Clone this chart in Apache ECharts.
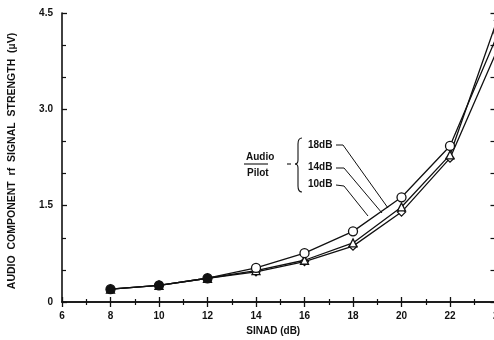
<!DOCTYPE html>
<html>
<head>
<meta charset="utf-8">
<script src="https://cdn.jsdelivr.net/npm/echarts@6/dist/echarts.min.js"></script>
<style>
  html, body { margin: 0; padding: 0; background: #fff; }
  #chart { width: 494px; height: 340px; }
</style>
</head>
<body>
<div id="chart"></div>
<script>
// SINAD (dB)
var sinad = [8, 10, 12, 14, 16, 18, 20, 22, 24];
// audio/pilot ratio curves, µV
var audio18 = [0.2, 0.26, 0.37, 0.53, 0.76, 1.1, 1.63, 2.43, 4.2];
var audio14 = [0.2, 0.26, 0.37, 0.49, 0.65, 0.92, 1.48, 2.29, 4.45];
var audio10 = [0.2, 0.26, 0.37, 0.47, 0.63, 0.87, 1.4, 2.24, 3.97];
var yTicks = [0, 1.5, 3.0, 4.5];

var font = "Liberation Sans, Arial, sans-serif";

// first three points overlap on the original and print as solid dots
function pairs(ys) {
  return sinad.map(function (x, i) {
    var item = { value: [x, ys[i]] };
    if (x <= 12) item.itemStyle = { color: "#111" };
    return item;
  });
}

function makeSeries(name, ys, symbol, size) {
  return {
    name: name,
    type: "line",
    data: pairs(ys),
    symbol: symbol,
    symbolSize: size,
    showAllSymbol: true,
    lineStyle: { color: "#111", width: 1.3 },
    itemStyle: { color: "#fff", borderColor: "#111", borderWidth: 1.3 },
    emphasis: { disabled: true },
    z: 3,
  };
}

function label(txt, x, y) {
  return {
    type: "text",
    x: x,
    y: y,
    style: { text: txt, font: "bold 10px " + font, fill: "#111", verticalAlign: "middle" },
  };
}

function seg(x1, y1, x2, y2) {
  return { type: "line", shape: { x1: x1, y1: y1, x2: x2, y2: y2 }, style: { stroke: "#111", lineWidth: 1.1 } };
}

function curve(x1, y1, cx, cy, x2, y2) {
  return {
    type: "bezierCurve",
    shape: { x1: x1, y1: y1, cpx1: cx, cpy1: cy, x2: x2, y2: y2 },
    style: { stroke: "#111", lineWidth: 1.1, fill: null },
  };
}

function leader(pts) {
  return { type: "polyline", shape: { points: pts }, style: { stroke: "#111", lineWidth: 1, fill: null } };
}

var axisLine = { show: true, lineStyle: { color: "#111", width: 1.6 } };

var myChart = echarts.init(document.getElementById("chart"));
myChart.setOption({
  animation: false,
  backgroundColor: "#fff",
  grid: { left: 62, top: 13, width: 436.5, height: 289, outerBoundsMode: "none", containLabel: false },
  xAxis: [
    {
      type: "value",
      min: 6,
      max: 24,
      interval: 2,
      axisLine: axisLine,
      axisTick: { inside: true, length: 5, lineStyle: { color: "#111", width: 1.3 } },
      minorTick: { show: true, splitNumber: 2, length: 3, lineStyle: { color: "#111", width: 1.2 } },
      splitLine: { show: false },
      axisLabel: { color: "#111", fontFamily: font, fontWeight: "bold", fontSize: 10, margin: 9 },
      name: "SINAD (dB)",
      nameLocation: "middle",
      nameGap: 21,
      nameTextStyle: { color: "#111", fontFamily: font, fontWeight: "bold", fontSize: 10, padding: [0, 14, 0, 0] },
    },
    {
      type: "value",
      position: "top",
      min: 6,
      max: 24,
      interval: 2,
      axisLine: axisLine,
      axisTick: { inside: true, length: 5, lineStyle: { color: "#111", width: 1.3 } },
      minorTick: { show: true, splitNumber: 2, length: 3, lineStyle: { color: "#111", width: 1.2 } },
      splitLine: { show: false },
      axisLabel: { show: false },
    },
  ],
  yAxis: [
    {
      type: "value",
      min: 0,
      max: 4.5,
      interval: 1.5,
      axisLine: axisLine,
      axisTick: { inside: true, length: 5, lineStyle: { color: "#111", width: 1.3 } },
      minorTick: { show: true, splitNumber: 3, length: 4, lineStyle: { color: "#111", width: 1.2 } },
      splitLine: { show: false },
      axisLabel: {
        color: "#111",
        fontFamily: font,
        fontWeight: "bold",
        fontSize: 10,
        margin: 9,
        formatter: function (v) {
          var t = yTicks.filter(function (k) { return Math.abs(k - v) < 1e-6; })[0];
          return t === 0 ? "0" : t.toFixed(1);
        },
      },
      name: "AUDIO  COMPONENT  rf  SIGNAL  STRENGTH  (µV)",
      nameLocation: "middle",
      nameGap: 44,
      nameTextStyle: { color: "#111", fontFamily: font, fontWeight: "bold", fontSize: 10.5, padding: [0, 7, 0, 0] },
    },
    {
      type: "value",
      position: "right",
      min: 0,
      max: 4.5,
      interval: 1.5,
      axisLine: axisLine,
      axisTick: { inside: true, length: 8, lineStyle: { color: "#111", width: 1.3 } },
      minorTick: { show: true, splitNumber: 3, length: 8, lineStyle: { color: "#111", width: 1.2 } },
      splitLine: { show: false },
      axisLabel: { show: false },
    },
  ],
  series: [
    makeSeries("10dB", audio10, "diamond", 8),
    makeSeries("14dB", audio14, "triangle", 8),
    makeSeries("18dB", audio18, "circle", 9),
  ],
  graphic: [
    label("Audio", 246, 157),
    seg(244, 164, 268, 164),
    label("Pilot", 247, 173),
    seg(287, 164, 291, 164),
    // brace
    curve(302, 138, 298, 138, 298, 144),
    seg(298, 144, 298, 160),
    curve(298, 160, 298, 164, 295, 164),
    curve(295, 164, 298, 164, 298, 168),
    seg(298, 168, 298, 186),
    curve(298, 186, 298, 192, 302, 192),
    label("18dB", 308, 145),
    label("14dB", 308, 167),
    label("10dB", 308, 184),
    leader([[336, 145], [343, 145], [388, 208]]),
    leader([[336, 168], [344, 168], [382, 213]]),
    leader([[336, 185], [344, 186], [368, 216]]),
  ],
});
</script>
</body>
</html>
